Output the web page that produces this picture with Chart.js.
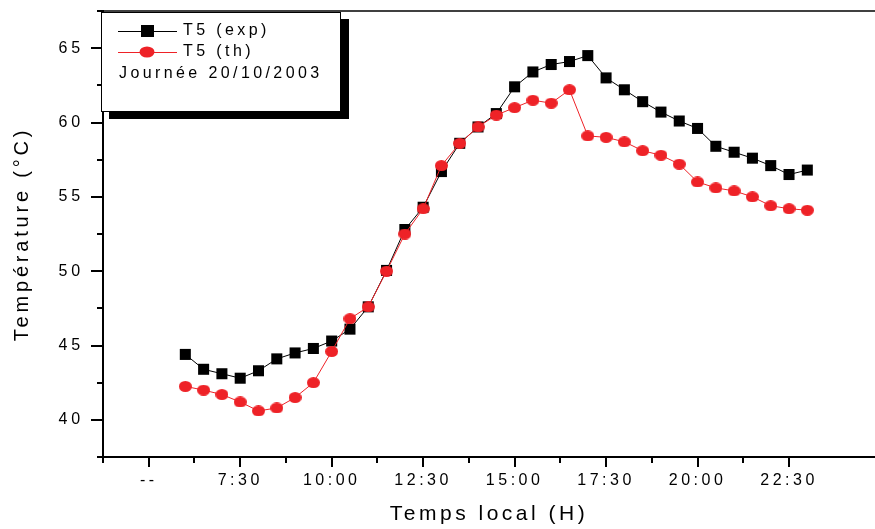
<!DOCTYPE html>
<html>
<head>
<meta charset="utf-8">
<title>T5 - Journée 20/10/2003</title>
<script src="https://cdn.jsdelivr.net/npm/chart.js@4.4.1/dist/chart.umd.min.js"></script>
<style>
  html, body { margin: 0; padding: 0; background: #fff; overflow: hidden; }
  #wrap { position: relative; width: 875px; height: 529px; }
</style>
</head>
<body>
<div id="wrap"><canvas id="chart"></canvas></div>
<script>
// ─────────────────────────────────────────────
//  Data
// ─────────────────────────────────────────────

// local time, decimal hours (6:00 → 23:00, every half hour)
const hours = [
  6, 6.5, 7, 7.5, 8, 8.5, 9, 9.5, 10, 10.5, 11, 11.5,
  12, 12.5, 13, 13.5, 14, 14.5, 15, 15.5, 16, 16.5, 17, 17.5,
  18, 18.5, 19, 19.5, 20, 20.5, 21, 21.5, 22, 22.5, 23
];

const t5Exp = [
  44.4, 43.4, 43.1, 42.8, 43.3, 44.1, 44.5, 44.8, 45.3, 46.1, 47.6, 50.05,
  52.8, 54.3, 56.7, 58.6, 59.7, 60.6, 62.4, 63.4, 63.9, 64.1, 64.5, 63.0,
  62.2, 61.4, 60.7, 60.1, 59.6, 58.4, 58.0, 57.6, 57.1, 56.5, 56.8
];

const t5Th = [
  42.25, 42.0, 41.7, 41.2, 40.6, 40.8, 41.5, 42.5, 44.6, 46.8, 47.6, 50.0,
  52.5, 54.2, 57.1, 58.6, 59.7, 60.5, 61.0, 61.5, 61.3, 62.2, 59.1, 59.0,
  58.7, 58.1, 57.8, 57.2, 56.0, 55.6, 55.4, 55.0, 54.4, 54.2, 54.1
];

const xTickValues = [5, 7.5, 10, 12.5, 15, 17.5, 20, 22.5];
const xTickLabels = ['--', '7:30', '10:00', '12:30', '15:00', '17:30', '20:00', '22:30'];

const legendNote = 'Journée 20/10/2003';

// ─────────────────────────────────────────────
//  Style
// ─────────────────────────────────────────────

const FONT    = "'Liberation Sans', Arial, Helvetica, sans-serif";
const RED     = '#ee2227';
const BLACK   = '#000000';
const SPACE_X = '3.5px';   // x ticks + x title
const SPACE_Y = '3.8px';   // y ticks + y title
const SPACE_L = '3.4px';   // legend

Chart.defaults.font.family = FONT;
Chart.defaults.color       = BLACK;

// slightly flattened red dot, like the original marker
function makeEllipse(w, h, color) {
  const c = document.createElement('canvas');
  c.width = w; c.height = h;
  const g = c.getContext('2d');
  g.fillStyle = color;
  g.beginPath();
  g.ellipse(w / 2, h / 2, w / 2, h / 2, 0, 0, Math.PI * 2);
  g.fill();
  return c;
}
const redDot = makeEllipse(13, 11, RED);

function isOnStep(v, step) {
  return Math.abs(v / step - Math.round(v / step)) < 1e-6;
}
function isMajorX(v) {
  return xTickValues.some(t => Math.abs(t - v) < 1e-6);
}

// ─────────────────────────────────────────────
//  Plugins
// ─────────────────────────────────────────────

// letter-spaced text: x scale draws before the datasets, y scale after (z: 1)
const letterSpacing = {
  id: 'letterSpacing',
  beforeLayout(chart)      { chart.ctx.letterSpacing = SPACE_X; },
  beforeDraw(chart)        { chart.ctx.letterSpacing = SPACE_X; },
  afterDatasetsDraw(chart) { chart.ctx.letterSpacing = SPACE_Y; },
};

// outward ticks (major + minor) and the top frame line
const axisTicks = {
  id: 'axisTicks',
  afterDraw(chart) {
    const { ctx, chartArea: a, scales: { x, y } } = chart;
    ctx.save();
    ctx.strokeStyle = BLACK;
    ctx.lineWidth = 2;
    ctx.beginPath();
    x.ticks.forEach(t => {
      if (!isOnStep(t.value, 1.25)) return;
      const px  = Math.round(x.getPixelForValue(t.value));
      const len = isMajorX(t.value) ? 10 : 6;
      ctx.moveTo(px, a.bottom);
      ctx.lineTo(px, a.bottom + len);
    });
    y.ticks.forEach(t => {
      if (!isOnStep(t.value, 2.5)) return;
      const py  = Math.round(y.getPixelForValue(t.value));
      const len = isOnStep(t.value, 5) ? 12 : 6;
      ctx.moveTo(a.left, py);
      ctx.lineTo(a.left - len, py);
    });
    ctx.stroke();

    ctx.lineWidth = 1.5;
    ctx.beginPath();
    ctx.moveTo(a.left, a.top);
    ctx.lineTo(a.right, a.top);
    ctx.stroke();
    ctx.restore();
  }
};

// boxed legend with drop shadow, top-left of the plot
const boxLegend = {
  id: 'boxLegend',
  afterDraw(chart) {
    const { ctx } = chart;
    const ds = chart.data.datasets;
    const bx = 101, by = 12, bw = 239, bh = 99;

    ctx.save();
    ctx.fillStyle = BLACK;
    ctx.fillRect(bx + 8, by + 7, bw + 1, bh + 1);
    ctx.fillStyle = '#fff';
    ctx.fillRect(bx, by, bw, bh);
    ctx.strokeStyle = BLACK;
    ctx.lineWidth = 1;
    ctx.strokeRect(bx + 0.5, by + 0.5, bw, bh);

    ctx.font = `16px ${FONT}`;
    ctx.letterSpacing = SPACE_L;
    ctx.textBaseline = 'middle';
    ctx.textAlign = 'left';

    const rows = [31, 52];
    ds.forEach((d, i) => {
      const ry = rows[i];
      ctx.strokeStyle = d.borderColor;
      ctx.lineWidth = 1;
      ctx.beginPath();
      ctx.moveTo(118, ry + 0.5);
      ctx.lineTo(177, ry + 0.5);
      ctx.stroke();
      ctx.fillStyle = d.borderColor;
      if (d.pointStyle === 'rect') {
        ctx.fillRect(141, ry - 6, 13, 12);
      } else {
        ctx.beginPath();
        ctx.ellipse(147, ry, 7.5, 5.5, 0, 0, Math.PI * 2);
        ctx.fill();
      }
      ctx.fillStyle = BLACK;
      ctx.fillText(d.label, 183, ry);
    });
    ctx.fillText(legendNote, 119, 74);
    ctx.restore();
  }
};

// ─────────────────────────────────────────────
//  Chart
// ─────────────────────────────────────────────

const ctx = document.getElementById('chart').getContext('2d');
new Chart(ctx, {
  type: 'line',
  data: {
    datasets: [
      {
        label: 'T5 (exp)',
        data: hours.map((h, i) => ({ x: h, y: t5Exp[i] })),
        borderColor: BLACK,
        backgroundColor: BLACK,
        borderWidth: 1,
        pointStyle: 'rect',
        pointRadius: 7.8,
        pointBorderWidth: 0,
        tension: 0,
        order: 1,
      },
      {
        label: 'T5 (th)',
        data: hours.map((h, i) => ({ x: h, y: t5Th[i] })),
        borderColor: RED,
        backgroundColor: RED,
        borderWidth: 1,
        pointStyle: redDot,
        pointRadius: 6,
        tension: 0,
        order: 0,
      },
    ]
  },
  options: {
    responsive: true,
    maintainAspectRatio: false,
    animation: false,
    layout: {
      autoPadding: false,
      padding: { top: 11, right: 0, left: 0, bottom: 0 },
    },
    plugins: {
      legend:  { display: false },
      tooltip: { enabled: false },
    },
    scales: {
      x: {
        type: 'linear',
        min: 3.75,
        max: 24.85,
        grid:   { display: false, drawTicks: false },
        border: { display: true, color: BLACK, width: 2 },
        ticks: {
          stepSize: 1.25,
          autoSkip: false,
          maxRotation: 0,
          padding: 14,
          font: { size: 16 },
          color: BLACK,
          callback: v => {
            const i = xTickValues.findIndex(t => Math.abs(t - v) < 1e-6);
            return i >= 0 ? xTickLabels[i] : '';
          },
        },
        title: {
          display: true,
          text: 'Temps local (H)',
          font: { size: 21 },
          color: BLACK,
          padding: { top: 0, bottom: 2 },
        },
        afterFit: s => {
          s.height = 72;
          s.paddingLeft = 0;
          s.paddingRight = 0;
        },
      },
      y: {
        min: 37.5,
        max: 67.5,
        grid:   { display: false, drawTicks: false, z: 1 },
        border: { display: true, color: BLACK, width: 2, z: 1 },
        ticks: {
          stepSize: 2.5,
          autoSkip: false,
          padding: 19,
          font: { size: 16 },
          color: BLACK,
          z: 1,
          callback: v => (isOnStep(v, 5) ? String(v) : ''),
        },
        title: {
          display: true,
          text: 'Température (°C)',
          font: { size: 20 },
          color: BLACK,
          padding: { top: 10, bottom: 0 },
        },
        afterFit: s => {
          s.width = 103;
          s.paddingTop = 0;
          s.paddingBottom = 0;
        },
      },
    },
  },
  plugins: [letterSpacing, axisTicks, boxLegend],
});
</script>
</body>
</html>
